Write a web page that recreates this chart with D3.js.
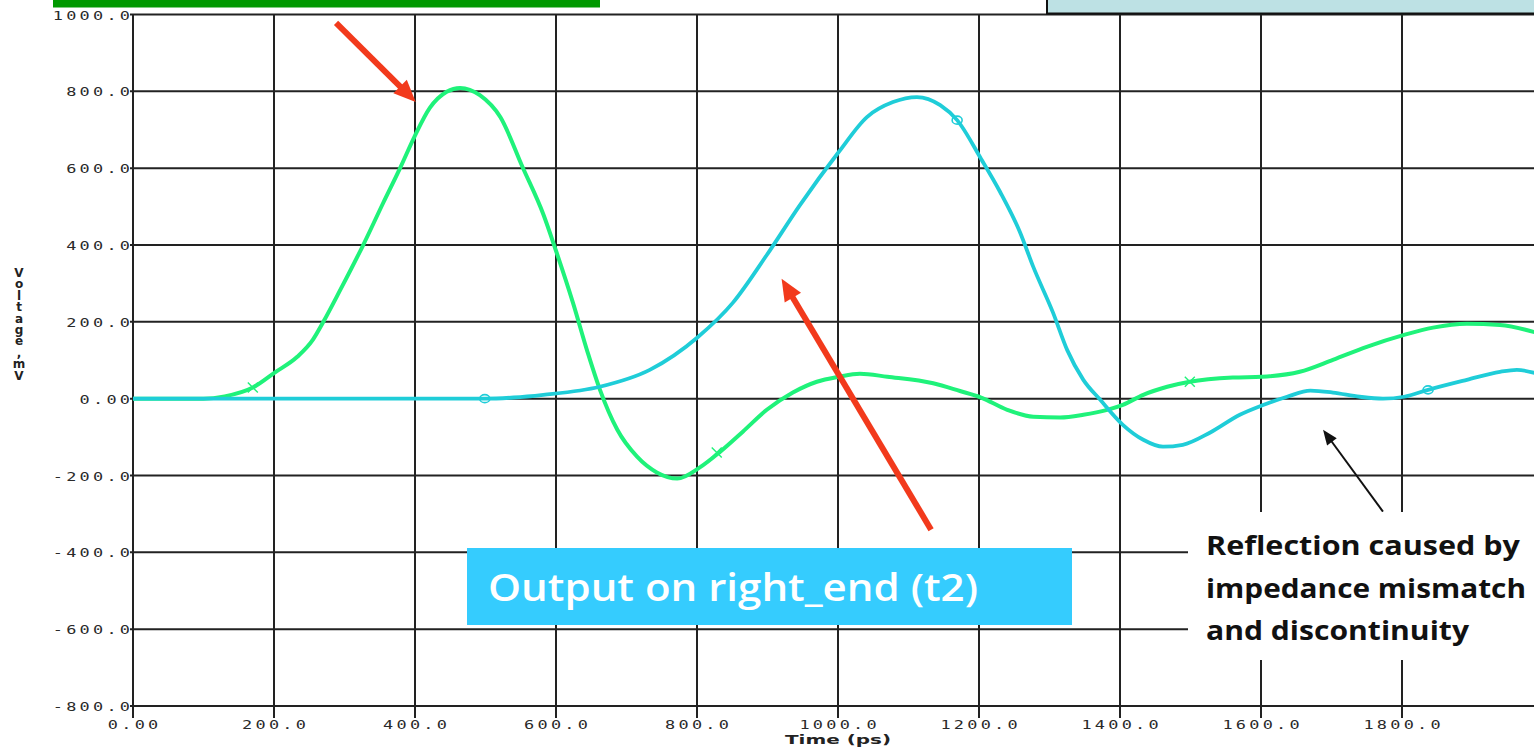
<!DOCTYPE html>
<html>
<head>
<meta charset="utf-8">
<script src="https://cdn.jsdelivr.net/npm/d3@7"></script>
<style>
  html, body { margin: 0; padding: 0; background: #fff; overflow: hidden; }
  svg { display: block; }
</style>
</head>
<body>
<svg id="chart" width="1534" height="748"></svg>
<script>
// input waveform (left_end, t1): time in ps, voltage in mV
const inputTime = [0, 100, 130, 170, 201, 233, 255, 270, 294, 326, 355, 379, 399, 421, 445, 464, 492, 521, 553, 582, 600, 624, 645, 662, 687, 715, 743, 772, 804, 833, 865, 899, 936, 970, 1001, 1031, 1070, 1135, 1173, 1203, 1240, 1277, 1315, 1348, 1382, 1404, 1433, 1467, 1499, 1560, 1601, 1655, 1702, 1750, 1803, 1844, 1892, 1939, 1990];
const inputVolt = [0, 0, 6, 29, 68, 109, 153, 200, 283, 398, 510, 601, 681, 757, 799, 809, 790, 733, 601, 480, 385, 250, 120, 25, -81, -151, -192, -208, -179, -138, -86, -29, 16, 44, 57, 65, 57, 40, 20, 3, -29, -47, -49, -42, -29, -16, 10, 31, 44, 55, 57, 70, 101, 135, 166, 185, 195, 192, 172];

// output waveform (right_end, t2)
const outputTime = [0, 499, 540, 582, 662, 733, 801, 851, 899, 946, 1001, 1041, 1078, 1112, 1145, 1169, 1203, 1230, 1258, 1277, 1305, 1325, 1348, 1372, 1404, 1433, 1461, 1489, 1528, 1570, 1601, 1637, 1670, 1702, 1740, 1773, 1803, 1837, 1892, 1939, 1963, 1990];
const outputVolt = [0, 0, 3, 10, 31, 75, 160, 250, 374, 504, 642, 733, 772, 785, 764, 725, 624, 538, 434, 343, 224, 127, 49, -3, -68, -107, -125, -120, -88, -42, -18, 5, 21, 16, 5, 0, 5, 23, 49, 70, 75, 66];

// simulator symbols along each trace
const inputMarks = [[170, 29], [828, -140], [1499, 44]];
const outputMarks = [[499, 0], [1169, 725], [1837, 23]];

const xTicks = [0, 200, 400, 600, 800, 1000, 1200, 1400, 1600, 1800];
const xTickLabels = ['0.00', '200.0', '400.0', '600.0', '800.0', '1000.0', '1200.0', '1400.0', '1600.0', '1800.0'];
const yTicks = [1000, 800, 600, 400, 200, 0, -200, -400, -600, -800];
const yTickLabels = ['1000.0', '800.0', '600.0', '400.0', '200.0', '0.00', '-200.0', '-400.0', '-600.0', '-800.0'];

// annotation arrows in data units: [tailTime, tailVolt, tipTime, tipVolt]
const redArrows = [[288, 978, 401, 772], [1132, -341, 920, 312]];
const blackArrows = [[1773, -294, 1688, -81]];

const reflectionLines = ['Reflection caused by', 'impedance mismatch', 'and discontinuity'];
const reflectionWidths = [314, 320, 263];

const svg = d3.select('#chart');
const width = 1534;
const height = 748;

const x = d3.scaleLinear().domain([0, 2000]).range([133, 1543]);
const y = d3.scaleLinear().domain([-800, 1000]).range([706, 14.5]);

const monoFont = '"DejaVu Sans Mono", monospace';
const comicFont = '"Open Sans", "Noto Sans", sans-serif';
const tickStretch = 1.3;
const tickSpacing = 2.5;

svg.append('rect').attr('width', width).attr('height', height).attr('fill', '#fff');

// grid
const grid = svg.append('g').attr('stroke', '#222').attr('stroke-width', 2);
grid.selectAll('line.h')
  .data(yTicks)
  .join('line')
  .attr('class', 'h')
  .attr('x1', x(0) - 3)
  .attr('x2', width)
  .attr('y1', d => y(d))
  .attr('y2', d => y(d));
grid.selectAll('line.v')
  .data(xTicks)
  .join('line')
  .attr('class', 'v')
  .attr('x1', d => x(d))
  .attr('x2', d => x(d))
  .attr('y1', y(1000))
  .attr('y2', y(-800) + 12);

// tick labels: wide, widely set simulator font
svg.append('g')
  .selectAll('text')
  .data(yTicks)
  .join('text')
  .attr('transform', d => `translate(${x(0) - 3},${y(d) + 5}) scale(${tickStretch},1)`)
  .attr('dx', tickSpacing)
  .attr('text-anchor', 'end')
  .attr('font-family', monoFont)
  .attr('font-size', 13)
  .attr('letter-spacing', tickSpacing)
  .attr('fill', '#2a2a2a')
  .text((d, i) => yTickLabels[i]);

svg.append('g')
  .selectAll('text')
  .data(xTicks)
  .join('text')
  .attr('transform', d => `translate(${x(d)},729) scale(${tickStretch},1)`)
  .attr('dx', tickSpacing / 2)
  .attr('text-anchor', 'middle')
  .attr('font-family', monoFont)
  .attr('font-size', 13)
  .attr('letter-spacing', tickSpacing)
  .attr('fill', '#2a2a2a')
  .text((d, i) => xTickLabels[i]);

svg.append('text')
  .attr('x', x(1000))
  .attr('y', 744)
  .attr('text-anchor', 'middle')
  .attr('font-family', '"DejaVu Sans", sans-serif')
  .attr('font-weight', 'bold')
  .attr('font-size', 13)
  .attr('textLength', 106)
  .attr('lengthAdjust', 'spacingAndGlyphs')
  .attr('fill', '#222')
  .text('Time (ps)');

// stacked y label
const yLabel = svg.append('text')
  .attr('font-family', '"DejaVu Sans", sans-serif')
  .attr('font-weight', 'bold')
  .attr('font-size', 12)
  .attr('text-anchor', 'middle')
  .attr('fill', '#222');
yLabel.selectAll('tspan')
  .data('Voltage,mV'.split(''))
  .join('tspan')
  .attr('x', 19)
  .attr('y', (d, i) => 277 + i * 11.4)
  .text(d => d);

// traces
svg.append('clipPath').attr('id', 'plotClip')
  .append('rect').attr('x', x(0)).attr('y', 0).attr('width', width - x(0)).attr('height', y(-800));

const line = d3.line()
  .x(d => x(d[0]))
  .y(d => y(d[1]))
  .curve(d3.curveMonotoneX);

const traces = svg.append('g').attr('clip-path', 'url(#plotClip)');
traces.append('path')
  .datum(d3.zip(inputTime, inputVolt))
  .attr('fill', 'none')
  .attr('stroke', '#1ff27a')
  .attr('stroke-width', 4)
  .attr('d', line);
traces.append('path')
  .datum(d3.zip(outputTime, outputVolt))
  .attr('fill', 'none')
  .attr('stroke', '#1fcdd8')
  .attr('stroke-width', 3.8)
  .attr('d', line);

traces.selectAll('path.xmark')
  .data(inputMarks)
  .join('path')
  .attr('class', 'xmark')
  .attr('transform', d => `translate(${x(d[0])},${y(d[1])})`)
  .attr('d', 'M-5,-5L5,5M-5,5L5,-5')
  .attr('stroke', '#1ff27a')
  .attr('stroke-width', 1.4)
  .attr('fill', 'none');
traces.selectAll('ellipse.omark')
  .data(outputMarks)
  .join('ellipse')
  .attr('class', 'omark')
  .attr('cx', d => x(d[0]))
  .attr('cy', d => y(d[1]))
  .attr('rx', 5)
  .attr('ry', 4)
  .attr('stroke', '#1fcdd8')
  .attr('stroke-width', 1.6)
  .attr('fill', 'none');

// header boxes cut off at the top of the picture
svg.append('rect').attr('x', 53).attr('y', 0).attr('width', 547).attr('height', 7.5).attr('fill', '#009900');
svg.append('rect').attr('x', 1047).attr('y', -2).attr('width', 500).attr('height', 15.5)
  .attr('fill', '#bde1e4').attr('stroke', '#111').attr('stroke-width', 2);

// arrows
function drawArrow(a, color, strokeWidth, headLen, headWidth) {
  const x1 = x(a[0]), y1 = y(a[1]), x2 = x(a[2]), y2 = y(a[3]);
  const ang = Math.atan2(y2 - y1, x2 - x1);
  const bx = x2 - headLen * Math.cos(ang), by = y2 - headLen * Math.sin(ang);
  const px = Math.sin(ang) * headWidth / 2, py = -Math.cos(ang) * headWidth / 2;
  svg.append('line')
    .attr('x1', x1).attr('y1', y1).attr('x2', bx + 2 * Math.cos(ang)).attr('y2', by + 2 * Math.sin(ang))
    .attr('stroke', color).attr('stroke-width', strokeWidth);
  svg.append('path')
    .attr('d', `M${x2},${y2}L${bx + px},${by + py}L${bx - px},${by - py}Z`)
    .attr('fill', color);
}
redArrows.forEach(a => drawArrow(a, '#f23a1c', 6, 22, 19));
blackArrows.forEach(a => drawArrow(a, '#111', 2, 15, 12));

// output label box
svg.append('rect').attr('x', 467).attr('y', 548).attr('width', 605).attr('height', 77).attr('fill', '#35ccfe');
svg.append('text')
  .attr('x', 488)
  .attr('y', 601)
  .attr('font-family', comicFont)
  .attr('font-size', 38)
  .attr('font-weight', 600)
  .attr('textLength', 490)
  .attr('lengthAdjust', 'spacingAndGlyphs')
  .attr('fill', '#fff')
  .text('Output on right_end (t2)');

// reflection note
svg.append('rect').attr('x', 1188).attr('y', 512).attr('width', 346).attr('height', 148).attr('fill', '#fff');
svg.append('g')
  .selectAll('text')
  .data(reflectionLines)
  .join('text')
  .attr('x', 1206)
  .attr('y', (d, i) => 555 + i * 42.5)
  .attr('font-family', comicFont)
  .attr('font-weight', 'bold')
  .attr('font-size', 27)
  .attr('textLength', (d, i) => reflectionWidths[i])
  .attr('lengthAdjust', 'spacingAndGlyphs')
  .attr('fill', '#111')
  .text(d => d);
</script>
</body>
</html>
